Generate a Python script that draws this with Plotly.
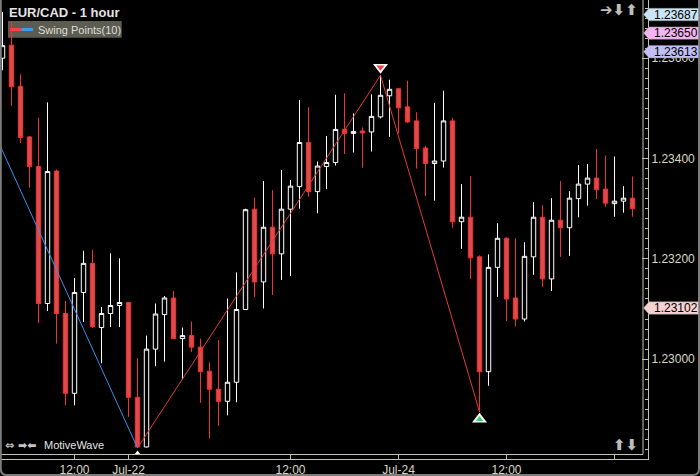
import plotly.graph_objects as go

# ---------------- data ----------------
bar_index = list(range(71))
open_ = [1.23600, 1.23626, 1.23544, 1.23443, 1.23384, 1.23111, 1.23375, 1.23091, 1.22932, 1.23133,
         1.23191, 1.23063, 1.23091, 1.23107, 1.23113, 1.22924, 1.22825, 1.23020, 1.23089, 1.23122,
         1.23041, 1.23047, 1.23024, 1.22976, 1.22940, 1.22916, 1.22954, 1.23099, 1.23299, 1.23154,
         1.23263, 1.23210, 1.23299, 1.23344, 1.23432, 1.23334, 1.23384, 1.23392, 1.23458, 1.23450,
         1.23455, 1.23453, 1.23483, 1.23525, 1.23539, 1.23503, 1.23475, 1.23421, 1.23390, 1.23395,
         1.23475, 1.23274, 1.23283, 1.23204, 1.22975, 1.23183, 1.23241, 1.23122, 1.23080, 1.23204,
         1.23283, 1.23160, 1.23277, 1.23262, 1.23320, 1.23349, 1.23361, 1.23339, 1.23310, 1.23315,
         1.23321]
high = [1.23692, 1.23673, 1.23568, 1.23445, 1.23481, 1.23512, 1.23378, 1.23116, 1.23162, 1.23216,
        1.23218, 1.23104, 1.23211, 1.23201, 1.23114, 1.23002, 1.23047, 1.23111, 1.23126, 1.23136,
        1.23063, 1.23075, 1.23041, 1.22994, 1.23038, 1.23121, 1.23173, 1.23300, 1.23322, 1.23355,
        1.23337, 1.23377, 1.23357, 1.23517, 1.23502, 1.23394, 1.23445, 1.23527, 1.23530, 1.23490,
        1.23462, 1.23528, 1.23566, 1.23557, 1.23540, 1.23555, 1.23492, 1.23425, 1.23511, 1.23535,
        1.23481, 1.23349, 1.23365, 1.23207, 1.23209, 1.23271, 1.23243, 1.23241, 1.23233, 1.23313,
        1.23307, 1.23321, 1.23355, 1.23335, 1.23387, 1.23389, 1.23419, 1.23406, 1.23404, 1.23345,
        1.23364]
low = [1.23576, 1.23505, 1.23431, 1.23342, 1.23072, 1.23096, 1.23031, 1.22908, 1.22908, 1.23074,
       1.23062, 1.22992, 1.23064, 1.23064, 1.22885, 1.22823, 1.22824, 1.22986, 1.22995, 1.23040,
       1.22960, 1.23014, 1.22913, 1.22842, 1.22867, 1.22888, 1.22914, 1.23098, 1.23124, 1.23101,
       1.23128, 1.23158, 1.23166, 1.23300, 1.23324, 1.23291, 1.23339, 1.23386, 1.23409, 1.23412,
       1.23382, 1.23414, 1.23480, 1.23443, 1.23450, 1.23471, 1.23380, 1.23325, 1.23316, 1.23382,
       1.23262, 1.23220, 1.23160, 1.22895, 1.22947, 1.23124, 1.23076, 1.23065, 1.23075, 1.23168,
       1.23144, 1.23136, 1.23204, 1.23206, 1.23283, 1.23306, 1.23319, 1.23304, 1.23284, 1.23292,
       1.23284]
close = [1.23625, 1.23543, 1.23442, 1.23384, 1.23111, 1.23374, 1.23091, 1.22932, 1.23133, 1.23191,
         1.23065, 1.23091, 1.23107, 1.23113, 1.22924, 1.22825, 1.23020, 1.23090, 1.23122, 1.23041,
         1.23047, 1.23024, 1.22975, 1.22940, 1.22916, 1.22954, 1.23099, 1.23298, 1.23154, 1.23263,
         1.23210, 1.23299, 1.23345, 1.23432, 1.23334, 1.23385, 1.23392, 1.23458, 1.23450, 1.23454,
         1.23451, 1.23484, 1.23526, 1.23538, 1.23501, 1.23473, 1.23420, 1.23390, 1.23395, 1.23475,
         1.23274, 1.23283, 1.23202, 1.22975, 1.23183, 1.23241, 1.23120, 1.23080, 1.23205, 1.23283,
         1.23160, 1.23277, 1.23262, 1.23321, 1.23349, 1.23361, 1.23338, 1.23311, 1.23315, 1.23321,
         1.23300]

x_tick_pos = [8, 14, 32, 44, 56, 68]
x_tick_text = ['12:00', 'Jul-22', '12:00', 'Jul-24', '12:00', '']

swing_idx = [-10, 15, 42, 53]
swing_price = [1.23810, 1.22823, 1.23566, 1.22895]

tag_prices = [1.23687, 1.23650, 1.23613, 1.23102]
tag_colors = ['#c9e5f3', '#f3b4ef', '#c0c0f7', '#f7d2d2']

# ---------------- layout helpers ----------------
W, H = 700, 476
PR, PB = 648, 459            # plot area right / bottom in pixels


def px(X):
    return X / PR


def py(Y):
    return (PB - Y) / PB


AX = '#c4c4ac'
AXT = '#d8d8c0'
FONT = 'Liberation Sans, Arial, sans-serif'

fig = go.Figure()

fig.add_trace(go.Candlestick(
    x=bar_index, open=open_, high=high, low=low, close=close,
    increasing=dict(line=dict(color='#ffffff', width=1), fillcolor='#000000'),
    decreasing=dict(line=dict(color='#f03434', width=1), fillcolor='#dc4c4c'),
    whiskerwidth=0, hoverinfo='skip', showlegend=False))

# swing legs
fig.add_trace(go.Scatter(x=swing_idx[:2], y=swing_price[:2], mode='lines',
                         line=dict(color='#3a8fe8', width=1), hoverinfo='skip', showlegend=False))
fig.add_trace(go.Scatter(x=swing_idx[1:], y=swing_price[1:], mode='lines',
                         line=dict(color='#e23a3a', width=1), hoverinfo='skip', showlegend=False))

# swing markers
hi_off, lo_off, lo_small_off = 0.00016, 0.00015, 0.00010
fig.add_trace(go.Scatter(x=[swing_idx[2]], y=[swing_price[2] + hi_off], mode='markers',
                         marker=dict(symbol='triangle-down', size=13, color='#ffffff', line=dict(width=0)),
                         hoverinfo='skip', showlegend=False))
fig.add_trace(go.Scatter(x=[swing_idx[2]], y=[swing_price[2] + hi_off], mode='markers',
                         marker=dict(symbol='triangle-down', size=7, color='#f04040', line=dict(width=0)),
                         hoverinfo='skip', showlegend=False))
fig.add_trace(go.Scatter(x=[swing_idx[3]], y=[swing_price[3] - lo_off], mode='markers',
                         marker=dict(symbol='triangle-up', size=13, color='#ffffff', line=dict(width=0)),
                         hoverinfo='skip', showlegend=False))
fig.add_trace(go.Scatter(x=[swing_idx[3]], y=[swing_price[3] - lo_off], mode='markers',
                         marker=dict(symbol='triangle-up', size=6.5, color='#30d860', line=dict(width=0)),
                         hoverinfo='skip', showlegend=False))
fig.add_trace(go.Scatter(x=[swing_idx[1]], y=[swing_price[1] - lo_small_off], mode='markers',
                         marker=dict(symbol='triangle-up', size=5, color='#ffffff', line=dict(width=0)),
                         hoverinfo='skip', showlegend=False))

shapes = []
# inner frame
shapes.append(dict(type='line', xref='paper', yref='paper', x0=px(643), x1=px(643), y0=py(0), y1=py(454.5),
                   line=dict(color=AX, width=1), layer='above'))
shapes.append(dict(type='line', xref='paper', yref='paper', x0=px(0), x1=px(643), y0=py(454.5), y1=py(454.5),
                   line=dict(color=AX, width=1), layer='above'))
# window frame
frame = (f"M {px(0.8)},{py(0)} L {px(0.8)},{py(469)} Q {px(0.8)},{py(475)} {px(6.8)},{py(475)} "
         f"L {px(693)},{py(475)} Q {px(699)},{py(475)} {px(699)},{py(469)} L {px(699)},{py(0)}")
shapes.append(dict(type='path', xref='paper', yref='paper', path=frame,
                   line=dict(color='#7c7c7c', width=2), layer='above'))
# legend box
shapes.append(dict(type='rect', xref='paper', yref='paper', x0=px(8), x1=px(121.7), y0=py(21), y1=py(37.7),
                   fillcolor='#5c5c50', line=dict(width=0), layer='below'))
shapes.append(dict(type='line', xref='paper', yref='paper', x0=px(10), x1=px(21.5), y0=py(29.5), y1=py(29.5),
                   line=dict(color='#ff4040', width=3), layer='below'))
shapes.append(dict(type='line', xref='paper', yref='paper', x0=px(21.5), x1=px(33), y0=py(29.5), y1=py(29.5),
                   line=dict(color='#3a9cf0', width=3), layer='below'))

# price tags on the right axis
half = 0.000124
annotations = []
for p, c in zip(tag_prices, tag_colors):
    path = (f"M {px(643.5)},{p} L {px(649)},{p + half} L {px(698.5)},{p + half} "
            f"L {px(698.5)},{p - half} L {px(649)},{p - half} Z")
    shapes.append(dict(type='path', xref='paper', yref='y', path=path, fillcolor=c,
                       line=dict(color='#8a8a8a', width=0.5), layer='above'))
    annotations.append(dict(xref='paper', yref='y', x=px(651.5), y=p, text=f"{p:.5f}",
                            showarrow=False, xanchor='left', yanchor='middle',
                            font=dict(family=FONT, size=12, color='#000000')))

# texts
annotations.append(dict(xref='paper', yref='paper', x=px(6.5), y=py(12.3), text='<b>EUR/CAD - 1 hour</b>',
                        showarrow=False, xanchor='left', yanchor='middle',
                        font=dict(family=FONT, size=13, color='#e4e4e4')))
annotations.append(dict(xref='paper', yref='paper', x=px(36), y=py(29.5), text='Swing Points(10)',
                        showarrow=False, xanchor='left', yanchor='middle',
                        font=dict(family=FONT, size=11, color='#dedede')))
annotations.append(dict(xref='paper', yref='paper', x=px(41.5), y=py(445), text='MotiveWave',
                        showarrow=False, xanchor='left', yanchor='middle',
                        font=dict(family=FONT, size=11, color='#e6e6e6')))
annotations.append(dict(xref='paper', yref='paper', x=px(2.5), y=py(445), text='<b>⇔ ➡⬅</b>',
                        showarrow=False, xanchor='left', yanchor='middle',
                        font=dict(family='DejaVu Sans', size=11, color='#c4c4c4')))
annotations.append(dict(xref='paper', yref='paper', x=px(640), y=py(9.5), text='<b>➔⬇⬆</b>',
                        showarrow=False, xanchor='right', yanchor='middle',
                        font=dict(family='DejaVu Sans', size=15, color='#bdbdbd')))
annotations.append(dict(xref='paper', yref='paper', x=px(640), y=py(445), text='<b>⬆⬇</b>',
                        showarrow=False, xanchor='right', yanchor='middle',
                        font=dict(family='DejaVu Sans', size=15, color='#bdbdbd')))

fig.update_layout(
    width=W, height=H,
    margin=dict(l=0, r=W - PR, t=0, b=H - PB, pad=0),
    paper_bgcolor='#000000', plot_bgcolor='#000000',
    showlegend=False,
    shapes=shapes, annotations=annotations,
    xaxis=dict(range=[-0.278, 71.72], tickmode='array', tickvals=x_tick_pos, ticktext=x_tick_text,
               ticks='inside', ticklen=5, tickcolor=AX, tickwidth=1,
               showline=True, linecolor=AX, linewidth=1, showgrid=False, zeroline=False,
               tickfont=dict(family=FONT, size=12, color=AXT),
               rangeslider=dict(visible=False), fixedrange=True),
    yaxis=dict(side='right', range=[1.22801, 1.23716], tickmode='linear', tick0=1.230, dtick=0.002,
               tickformat='.5f', ticks='inside', ticklen=6, tickcolor=AX, tickwidth=1,
               minor=dict(tickmode='linear', tick0=1.228, dtick=0.0002, ticks='inside', ticklen=3,
                          tickcolor=AX, tickwidth=1, showgrid=False),
               showline=True, linecolor=AX, linewidth=1, showgrid=False, zeroline=False,
               tickfont=dict(family=FONT, size=12, color=AXT), fixedrange=True),
)

fig.write_html('out.html', config={'displayModeBar': False},
               post_script="document.body.style.margin='0';document.body.style.padding='0';"
                           "document.body.style.background='#000';")
